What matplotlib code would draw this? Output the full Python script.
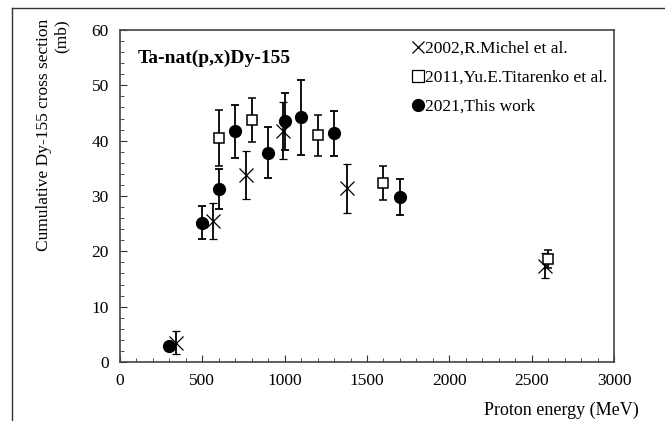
import matplotlib
matplotlib.use('Agg')
import matplotlib.pyplot as plt
from matplotlib.lines import Line2D
from matplotlib.ticker import MultipleLocator

plt.rcParams['font.family'] = 'Liberation Serif'

# 2002, R.Michel et al.
michel_e = [340, 565, 765, 990, 1380, 2580]
michel_xs = [3.5, 25.5, 33.8, 41.8, 31.4, 17.4]
michel_err = [2.1, 3.3, 4.4, 5.2, 4.4, 2.3]

# 2011, Yu.E.Titarenko et al.
tit_e = [600, 800, 1200, 1600, 2600]
tit_xs = [40.5, 43.7, 41.0, 32.3, 18.6]
tit_err = [5.0, 4.0, 3.7, 3.1, 1.7]

# 2021, this work
work_e = [300, 500, 600, 700, 900, 1000, 1100, 1300, 1700]
work_xs = [2.9, 25.2, 31.2, 41.7, 37.8, 43.5, 44.2, 41.3, 29.8]
work_err = [0.0, 3.0, 3.6, 4.8, 4.6, 5.1, 6.8, 4.1, 3.3]

fig = plt.figure(figsize=(6.65, 4.21), dpi=100)
ax = fig.add_axes([120/665, 59/421, 494/665, 332/421])

eb = dict(ecolor='black', elinewidth=1.3, capsize=3, capthick=1.3, linestyle='none')
ax.errorbar(michel_e, michel_xs, yerr=michel_err, marker='x', ms=10, mew=0.9,
            color='black', **eb)
ax.errorbar(tit_e, tit_xs, yerr=tit_err, marker='s', ms=7.5, mew=1.1,
            mfc='white', mec='black', **eb)
ax.errorbar(work_e, work_xs, yerr=work_err, marker='o', ms=8.5,
            color='black', **eb)

ax.set_xlim(0, 3000)
ax.set_ylim(0, 60)
ax.xaxis.set_major_locator(MultipleLocator(500))
ax.xaxis.set_minor_locator(MultipleLocator(100))
ax.yaxis.set_major_locator(MultipleLocator(10))
ax.yaxis.set_minor_locator(MultipleLocator(2))
ax.tick_params(which='both', direction='in', labelsize=12.5, color='#333333')
ax.tick_params(which='major', length=5, pad=8)
ax.tick_params(which='minor', length=3)
for s in ax.spines.values():
    s.set_color('#444444')
    s.set_linewidth(1.2)

ax.text(0.035, 0.915, 'Ta-nat(p,x)Dy-155', transform=ax.transAxes,
        fontsize=14, fontweight='bold', va='center')

handles = [
    Line2D([], [], marker='x', ms=8.5, mew=0.9, color='black', ls='none'),
    Line2D([], [], marker='s', ms=8.5, mew=0.9, mfc='white', mec='black', ls='none'),
    Line2D([], [], marker='o', ms=8.5, color='black', ls='none'),
]
labels = ['2002,R.Michel et al.', '2011,Yu.E.Titarenko et al.', '2021,This work']
ax.legend(handles, labels, loc='upper right', bbox_to_anchor=(1.012, 1.005),
          frameon=False, fontsize=12.5, handlelength=0.7, handletextpad=0.1,
          labelspacing=0.75, borderaxespad=0.3)

fig.text(53/665, 1 - 19/421, 'Cumulative Dy-155 cross section\n(mb)',
         rotation=90, ha='center', va='top', multialignment='right',
         fontsize=12.5, linespacing=1.1)
fig.text(639/665, 1 - 410/421, 'Proton energy (MeV)', ha='right', va='center',
         fontsize=13)

# outer frame, left and top edges
fig.add_artist(Line2D([12/665, 12/665], [0, 1 - 8/421], transform=fig.transFigure,
                      color='#333333', lw=1))
fig.add_artist(Line2D([12/665, 1], [1 - 8/421, 1 - 8/421], transform=fig.transFigure,
                      color='#333333', lw=1))

fig.savefig('out.png', dpi=100)
